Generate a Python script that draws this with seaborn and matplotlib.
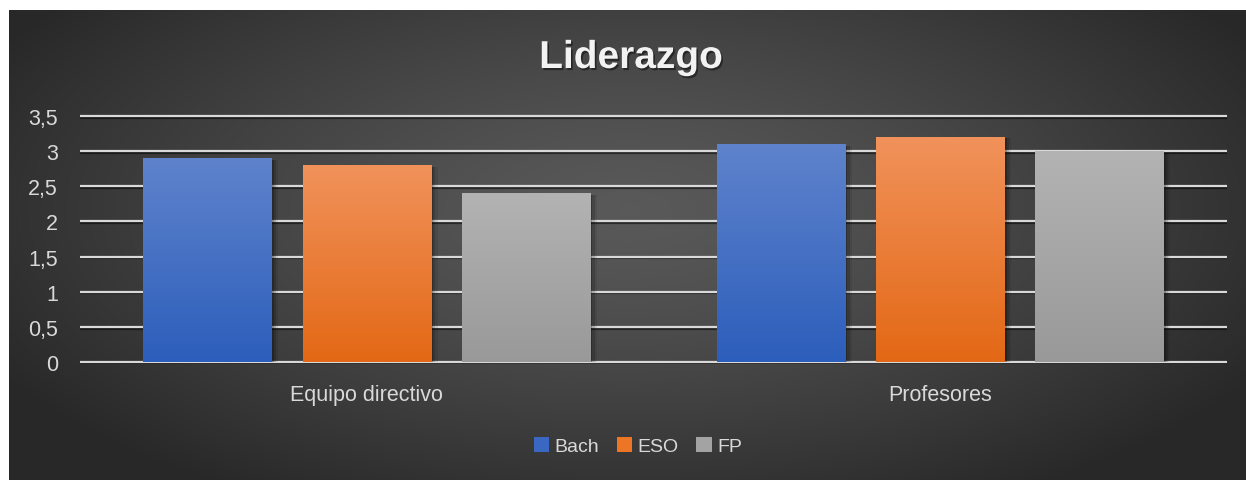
import numpy as np
import pandas as pd
import matplotlib
matplotlib.use('Agg')
import matplotlib.pyplot as plt
import matplotlib.ticker as ticker
import matplotlib.patheffects as pe
from matplotlib.patches import Patch
from matplotlib.colors import LinearSegmentedColormap
import seaborn as sns

# ---------------- data ----------------
groups = ['Equipo directivo', 'Profesores']
levels = ['Bach', 'ESO', 'FP']
bach = [2.9, 3.1]
eso = [2.8, 3.2]
fp = [2.4, 3.0]
yticks = [0, 0.5, 1, 1.5, 2, 2.5, 3, 3.5]

df = pd.DataFrame({
    'Grupo': groups * 3,
    'Nivel': ['Bach'] * 2 + ['ESO'] * 2 + ['FP'] * 2,
    'Valor': bach + eso + fp,
})

# (top, bottom) colours for the bar gradients
grad = {'Bach': ('#5f83cc', '#2c5ebb'),
        'ESO': ('#f1925b', '#e36815'),
        'FP': ('#b3b3b3', '#999999')}
solid = {'Bach': '#3a67c2', 'ESO': '#ec7526', 'FP': '#a3a3a3'}

sns.set_theme(style='white')
plt.rcParams['font.family'] = ['Liberation Sans', 'DejaVu Sans']

W, H = 1246, 481
fig = plt.figure(figsize=(W / 100, H / 100), dpi=100)
fig.patch.set_facecolor('white')

# ---------------- dark radial background panel ----------------
bg = fig.add_axes([9 / W, 0, (W - 9) / W, (H - 11) / H])
bg.set_axis_off()
yy, xx = np.mgrid[0:470, 0:1237]
r = np.sqrt(((xx - 620) / 720.0) ** 2 + ((yy - 200) / 330.0) ** 2)
r = np.clip(r, 0, 1)
shade = 0.35 - 0.19 * r ** 1.3
bg.imshow(np.dstack([shade] * 3), aspect='auto', extent=[0, 1, 0, 1],
          origin='upper')
bg.set_xlim(0, 1); bg.set_ylim(0, 1)

# ---------------- bar axes ----------------
px = 70.29  # pixels per unit
pad = 0.03
bot = (H - 363 - pad * px) / H
hgt = (3.5 + 2 * pad) * px / H
ax = fig.add_axes([80 / W, bot, (1227 - 80) / W, hgt])
ax.patch.set_alpha(0)

sns.barplot(data=df, x='Grupo', y='Valor', hue='Nivel', order=groups,
            hue_order=levels, palette=solid, width=0.833, gap=0.196,
            legend=False, ax=ax, zorder=3, linewidth=0)

for v in yticks:
    ax.axhline(v, color='#d9d9d9', lw=1.6, zorder=1,
               path_effects=[pe.SimpleLineShadow(offset=(0, -1.2), shadow_color='black', alpha=0.5),
                             pe.Normal()])

# gradient fill + soft shadow on each bar
for i, p in enumerate(ax.patches):
    lvl = levels[i // len(groups)]
    x0, w, h = p.get_x(), p.get_width(), p.get_height()
    for k, a in enumerate([0.22, 0.14, 0.08]):
        ax.add_patch(plt.Rectangle((x0 + w, 0), 0.004 * (k + 1), h - 0.02,
                                   color='black', alpha=a, lw=0, zorder=2))
    cmap = LinearSegmentedColormap.from_list(lvl, [grad[lvl][0], grad[lvl][1]])
    img = ax.imshow(np.linspace(0, 1, 256).reshape(-1, 1), cmap=cmap,
                    aspect='auto', extent=[x0, x0 + w, 0, h], origin='upper',
                    zorder=4)
    img.set_clip_path(p)
ax.set_xlim(-0.5, 1.5)
ax.set_ylim(-pad, 3.5 + pad)

for s in ax.spines.values():
    s.set_visible(False)
ax.set_yticks(yticks)
ax.yaxis.set_major_formatter(ticker.FuncFormatter(
    lambda v, _: ('%g' % v).replace('.', ',')))
ax.tick_params(axis='y', length=0, pad=16, labelsize=15.5, labelcolor='#d9d9d9')
ax.tick_params(axis='x', length=0, pad=14, labelsize=15.5, labelcolor='#d9d9d9')
ax.set_xlabel(''); ax.set_ylabel('')

# ---------------- title ----------------
fig.text(631 / W, 1 - 59 / H, 'Liderazgo', ha='center', va='center',
         fontsize=28, fontweight='bold', color='#f2f2f2',
         path_effects=[pe.withSimplePatchShadow(offset=(1.2, -1.5), shadow_rgbFace='black', alpha=0.45)])

# ---------------- legend ----------------
handles = [Patch(facecolor=solid[l], edgecolor='none', label=l) for l in levels]
leg = fig.legend(handles=handles, loc='center', ncol=3,
                 bbox_to_anchor=(638 / W, 1 - 447 / H), frameon=False,
                 fontsize=14, handlelength=0.78, handleheight=0.78,
                 handletextpad=0.3, columnspacing=0.9, labelcolor='#d9d9d9')

fig.savefig('out.png', dpi=100)
